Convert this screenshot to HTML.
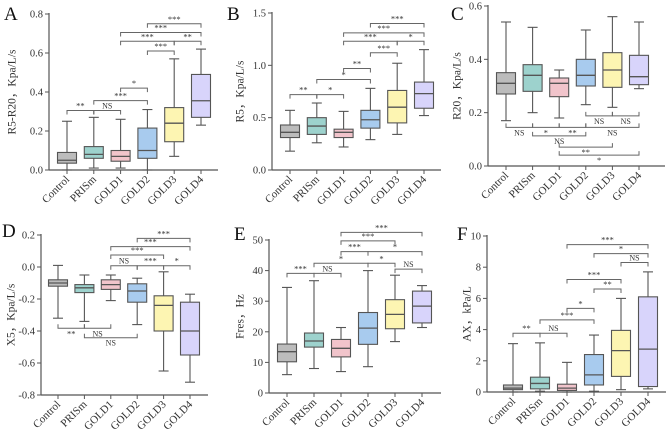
<!DOCTYPE html>
<html><head><meta charset="utf-8"><style>
body{margin:0;background:#fff;}
svg{display:block;font-family:"Liberation Serif",serif;}
</style></head><body>
<svg id="fig" width="669" height="430" viewBox="0 0 669 430"></svg>
<script>
const categories=["Control","PRISm","GOLD1","GOLD2","GOLD3","GOLD4"];
const colors=["#bcbcbc","#9dd2cd","#f1c4cb","#a8cbee","#fdf5b2","#d8d4fb"];
// box stats: [min,q1,median,q3,max]
const dataA=[[0,0.035,0.05,0.09,0.25],[0.01,0.06,0.08,0.12,0.27],[0.01,0.045,0.07,0.10,0.26],[0,0.06,0.10,0.215,0.31],[0.07,0.145,0.24,0.32,0.57],[0.23,0.27,0.355,0.49,0.62]];
const dataB=[[0.18,0.31,0.36,0.43,0.57],[0.26,0.34,0.42,0.50,0.64],[0.22,0.31,0.36,0.39,0.56],[0.29,0.40,0.48,0.57,0.78],[0.34,0.45,0.60,0.76,1.02],[0.52,0.59,0.73,0.84,1.15]];
const dataC=[[0.17,0.27,0.31,0.35,0.54],[0.20,0.28,0.34,0.38,0.52],[0.18,0.26,0.31,0.33,0.36],[0.23,0.30,0.34,0.40,0.51],[0.22,0.295,0.36,0.425,0.56],[0.29,0.305,0.335,0.415,0.54]];
const dataD=[[-0.32,-0.12,-0.10,-0.08,0.01],[-0.34,-0.16,-0.13,-0.11,-0.05],[-0.21,-0.14,-0.11,-0.08,-0.05],[-0.36,-0.22,-0.15,-0.105,-0.07],[-0.65,-0.40,-0.24,-0.18,-0.03],[-0.72,-0.55,-0.40,-0.22,-0.17]];
const dataE=[[6,10.2,13.5,16,34.5],[8,15,17,19.6,36.7],[7,11.8,14.6,17.5,21.4],[8.6,15.9,21.2,26.3,40],[16.8,21,25.7,30.5,38.5],[21.4,22.9,28.4,33.3,35.1]];
const dataF=[[0,0.15,0.25,0.45,3.1],[0.05,0.2,0.55,0.95,3.15],[0,0.1,0.25,0.5,1.9],[0.05,0.45,1.1,2.4,3.65],[0.15,1.0,2.65,3.95,6.0],[0.2,0.35,2.75,6.1,7.7]];
// brackets: [from,to,label,yValue,dir(1=top,-1=below)]
const bracketsA=[[0,1,"**",0.305,1],[1,2,"NS",0.305,1],[1,3,"***",0.356,1],[2,3,"*",0.42,1],[3,4,"***",0.61,1],[2,4,"***",0.66,1],[4,5,"**",0.66,1],[2,5,"***",0.705,1],[3,5,"***",0.75,1]];
const bracketsB=[[0,1,"**",0.72,1],[1,2,"*",0.72,1],[1,3,"*",0.865,1],[2,3,"**",0.97,1],[3,4,"***",1.12,1],[2,4,"***",1.23,1],[4,5,"*",1.23,1],[2,5,"***",1.31,1],[3,5,"***",1.40,1]];
const bracketsC=[[0,1,"NS",0.145,-1],[1,2,"*",0.145,-1],[2,3,"**",0.145,-1],[3,5,"NS",0.145,-1],[3,4,"NS",0.188,-1],[4,5,"NS",0.188,-1],[1,3,"NS",0.113,-1],[2,4,"**",0.071,-1],[2,5,"*",0.041,-1]];
const bracketsD=[[2,3,"NS",0.008,1],[3,4,"***",0.008,1],[4,5,"*",0.008,1],[2,4,"***",0.075,1],[2,5,"***",0.127,1],[3,5,"***",0.179,1],[0,1,"**",-0.383,-1],[1,2,"NS",-0.383,-1],[1,3,"NS",-0.442,-1]];
const bracketsE=[[0,1,"***",39.1,1],[1,2,"NS",39.1,1],[1,3,"*",42.4,1],[3,4,"*",42.4,1],[4,5,"NS",40.5,1],[2,3,"***",46.2,1],[3,5,"*",46.2,1],[2,4,"***",49.7,1],[2,5,"***",52.5,1]];
const bracketsF=[[0,1,"**",3.77,1],[1,2,"NS",3.77,1],[1,3,"***",4.62,1],[2,3,"*",5.36,1],[3,4,"**",6.6,1],[2,4,"***",7.21,1],[4,5,"NS",8.3,1],[3,5,"*",8.87,1],[2,5,"***",9.45,1]];
const ticksA=[0,0.2,0.4,0.6,0.8], tickLabelsA=["0.0","0.2","0.4","0.6","0.8"];
const ticksB=[0,0.5,1.0,1.5], tickLabelsB=["0.0","0.5","1.0","1.5"];
const ticksC=[0,0.2,0.4,0.6], tickLabelsC=["0.0","0.2","0.4","0.6"];
const ticksD=[0.2,0,-0.2,-0.4,-0.6,-0.8], tickLabelsD=["0.2","0.0","-0.2","-0.4","-0.6","-0.8"];
const ticksE=[0,10,20,30,40,50], tickLabelsE=["0","10","20","30","40","50"];
const ticksF=[0,2,4,6,8,10], tickLabelsF=["0","2","4","6","8","10"];

const svg=document.getElementById('fig');
const NS='http://www.w3.org/2000/svg';
function mk(tag,attrs,parent){const e=document.createElementNS(NS,tag);for(const k in attrs)e.setAttribute(k,attrs[k]);(parent||svg).appendChild(e);return e;}

const panels=[
 {id:"a",letter:"A",lx:4,ly:20,ax:49,xEnd:218,vmin:0,vmax:0.8,pmin:170,pmax:14,cx0:67,dx:26.8,data:dataA,br:bracketsA,ticks:ticksA,tl:tickLabelsA,title:"R5-R20，Kpa/L/s",tx:13},
 {id:"b",letter:"B",lx:227,ly:20,ax:272,xEnd:441,vmin:0,vmax:1.5,pmin:170,pmax:13,cx0:290,dx:26.8,data:dataB,br:bracketsB,ticks:ticksB,tl:tickLabelsB,title:"R5，Kpa/L/s",tx:241},
 {id:"c",letter:"C",lx:451,ly:20,ax:488,xEnd:665,vmin:0,vmax:0.6,pmin:166,pmax:6,cx0:506,dx:26.6,data:dataC,br:bracketsC,ticks:ticksC,tl:tickLabelsC,title:"R20，Kpa/L/s",tx:458},
 {id:"d",letter:"D",lx:2,ly:237,ax:41,xEnd:208,vmin:-0.8,vmax:0.2,pmin:395,pmax:235,cx0:58,dx:26.4,data:dataD,br:bracketsD,ticks:ticksD,tl:tickLabelsD,title:"X5，Kpa/L/s",tx:12},
 {id:"e",letter:"E",lx:234,ly:240,ax:269,xEnd:441,vmin:0,vmax:50,pmin:393,pmax:240,cx0:287,dx:27,data:dataE,br:bracketsE,ticks:ticksE,tl:tickLabelsE,title:"Fres，Hz",tx:241},
 {id:"f",letter:"F",lx:457,ly:240,ax:487,xEnd:666,vmin:0,vmax:10,pmin:392,pmax:236,cx0:513,dx:27,data:dataF,br:bracketsF,ticks:ticksF,tl:tickLabelsF,title:"AX，kPa/L",tx:468}
];
const stroke="#555";
panels.forEach(p=>{
  const g=mk('g',{});
  
  
  const y=v=>p.pmin+(v-p.vmin)/(p.vmax-p.vmin)*(p.pmax-p.pmin);
  const x=i=>p.cx0+i*p.dx;
  const base=p.pmin;
  const L=mk('text',{x:p.lx,y:p.ly,'font-size':19,fill:'#111'},g);L.textContent=p.letter;
  
  // axes
  const ya=mk('line',{x1:p.ax,y1:Math.min(p.pmax,p.pmin)-1,x2:p.ax,y2:base,stroke:stroke,'stroke-width':1.2},g);
  
  const xa=mk('line',{x1:p.ax,y1:base,x2:p.xEnd,y2:base,stroke:stroke,'stroke-width':1.2},g);
  
  p.ticks.forEach((t,k)=>{
    mk('line',{x1:p.ax-4,y1:y(t),x2:p.ax,y2:y(t),stroke:stroke,'stroke-width':1},g);
    const tt=mk('text',{x:p.ax-6,y:y(t)+3.5,'font-size':10.5,'text-anchor':'end',fill:'#333'},g);
    tt.textContent=p.tl[k];
    
  });
  const cy=(p.pmin+p.pmax)/2;
  const ti=mk('text',{x:p.tx,y:cy,'font-size':11.5,'text-anchor':'middle',fill:'#333',transform:`rotate(-90 ${p.tx} ${cy})`,'dominant-baseline':'middle'},g);
  ti.textContent=p.title;
  
  categories.forEach((c,i)=>{
    const cx=x(i);
    mk('line',{x1:cx,y1:base,x2:cx,y2:base+4,stroke:stroke,'stroke-width':1},g);
    const ct=mk('text',{x:cx+3,y:base+10,'font-size':11,'text-anchor':'end',fill:'#333',transform:`rotate(-45 ${cx+3} ${base+10})`},g);
    ct.textContent=c;
    
    const d=p.data[i],hw=9.5;
    const bg=mk('g',{},g);
    
    mk('line',{x1:cx,y1:y(d[0]),x2:cx,y2:y(d[4]),stroke:stroke,'stroke-width':1.1},bg);
    mk('line',{x1:cx-5,y1:y(d[0]),x2:cx+5,y2:y(d[0]),stroke:stroke,'stroke-width':1.1},bg);
    mk('line',{x1:cx-5,y1:y(d[4]),x2:cx+5,y2:y(d[4]),stroke:stroke,'stroke-width':1.1},bg);
    const top=Math.min(y(d[1]),y(d[3])),h=Math.abs(y(d[3])-y(d[1]));
    mk('rect',{x:cx-hw,y:top,width:2*hw,height:h,fill:colors[i],stroke:stroke,'stroke-width':1.1},bg);
    mk('line',{x1:cx-hw,y1:y(d[2]),x2:cx+hw,y2:y(d[2]),stroke:stroke,'stroke-width':1.3},bg);
  });
  p.br.forEach(b=>{
    const bg=mk('g',{},g);
    
    const x1=x(b[0]),x2=x(b[1]),yy=y(b[3]),t=4*b[4];
    mk('polyline',{points:`${x1},${yy+t} ${x1},${yy} ${x2},${yy} ${x2},${yy+t}`,fill:'none',stroke:'#666','stroke-width':1},bg);
    const lb=mk('text',{x:(x1+x2)/2,y:b[4]>0?yy-2:yy+8,'font-size':b[2]==="NS"?8:8.5,'text-anchor':'middle',fill:'#333'},bg);
    lb.textContent=b[2];
  });
});
</script>
</body></html>
